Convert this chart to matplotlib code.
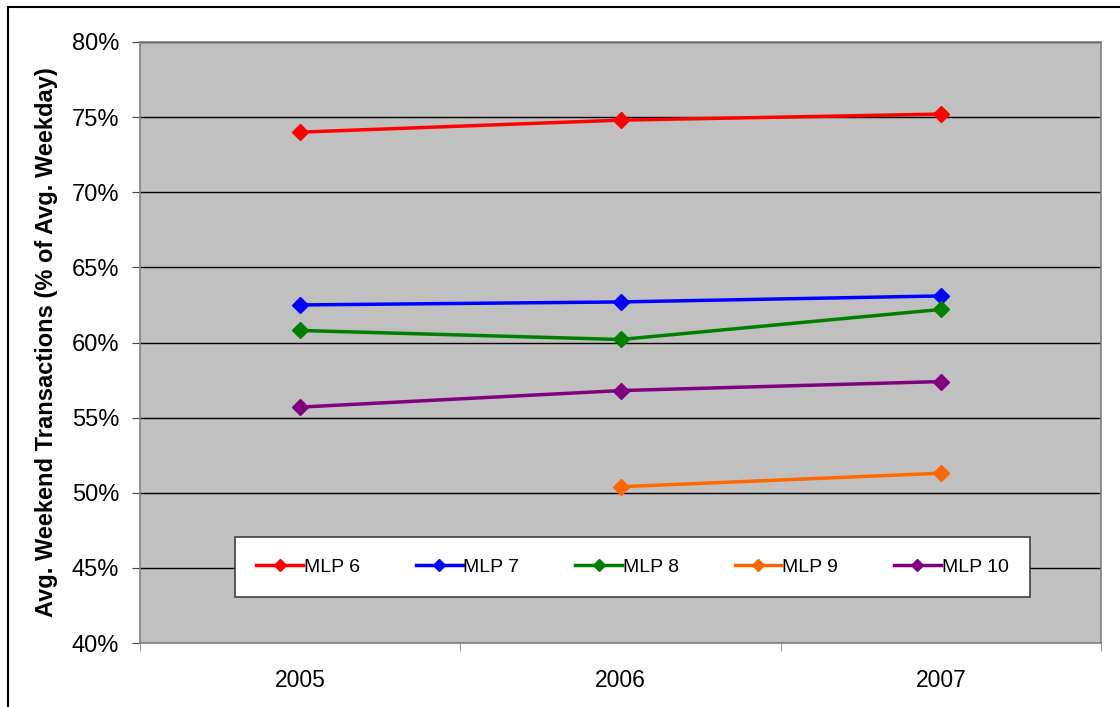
import matplotlib.pyplot as plt
from matplotlib.patches import Rectangle
from matplotlib.lines import Line2D
import numpy as np

years = ["2005", "2006", "2007"]
mlp6 = [74.0, 74.8, 75.2]
mlp7 = [62.5, 62.7, 63.1]
mlp8 = [60.8, 60.2, 62.2]
mlp9 = [np.nan, 50.4, 51.3]
mlp10 = [55.7, 56.8, 57.4]

series = [("MLP 6", mlp6, "#ff0000"),
          ("MLP 7", mlp7, "#0000ff"),
          ("MLP 8", mlp8, "#008000"),
          ("MLP 9", mlp9, "#ff6600"),
          ("MLP 10", mlp10, "#800080")]

plt.rcParams["font.family"] = ["Liberation Sans", "DejaVu Sans"]

my_dpi = 100
fig = plt.figure(figsize=(1120/my_dpi, 707/my_dpi), dpi=my_dpi)
fig.patches.append(Rectangle((8/1120, -0.1), 1.2, 1 - 7/707 + 0.1,
                             transform=fig.transFigure, fill=False,
                             edgecolor="black", linewidth=1.5))

ax = fig.add_axes([140/1120, 1 - 643/707, 961/1120, 601/707])
ax.set_facecolor("#c0c0c0")
for s in ax.spines.values():
    s.set_color("#808080")
    s.set_linewidth(1.2)

x = np.arange(len(years))
handles = []
for name, vals, col in series:
    ax.plot(x, vals, color=col, linewidth=2.5, marker="D", markersize=8)
    handles.append(Line2D([], [], color=col, linewidth=2.5, marker="D",
                          markersize=6, label=name))

ax.set_xlim(-0.5, 2.5)
ax.set_ylim(40, 80)
ax.set_yticks(np.arange(40, 81, 5))
ax.set_yticklabels(["%d%%" % v for v in range(40, 81, 5)], fontsize=17)
ax.set_xticks(x)
ax.set_xticklabels(years, fontsize=16.5)
ax.set_xticks([-0.5, 0.5, 1.5, 2.5], minor=True)
ax.tick_params(axis="x", which="major", length=0, pad=19)
ax.tick_params(axis="x", which="minor", length=6, color="#808080")
ax.tick_params(axis="y", length=6, color="#404040", pad=9)
ax.yaxis.grid(True, color="black", linewidth=1)
ax.set_axisbelow(True)

ax.set_ylabel("Avg. Weekend Transactions (% of Avg. Weekday)",
              fontsize=17, fontweight="bold", labelpad=10)

leg = ax.legend(handles=handles, loc="lower left",
                bbox_to_anchor=(95/961, 46/601, 795/961, 58/601),
                mode="expand", ncol=5, fontsize=14, frameon=True, fancybox=False,
                handlelength=2.4, handletextpad=0.05, borderaxespad=0,
                borderpad=1.1, columnspacing=1.5)
leg.get_frame().set_edgecolor("#404040")
leg.get_frame().set_linewidth(1.2)
leg.get_frame().set_alpha(1)

fig.savefig("out.png", dpi=my_dpi)
